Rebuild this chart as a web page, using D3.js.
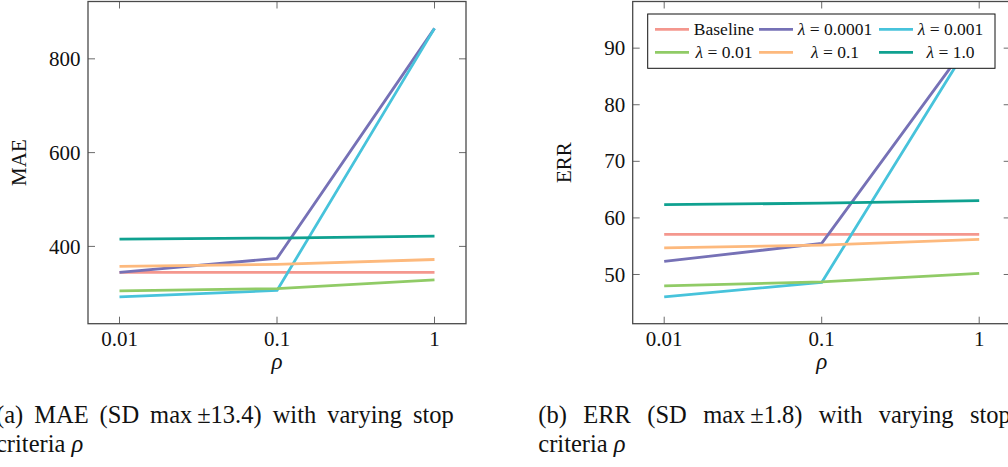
<!DOCTYPE html>
<html>
<head>
<meta charset="utf-8">
<script src="https://cdn.jsdelivr.net/npm/d3@7"></script>
<style>
  html, body { margin: 0; padding: 0; background: #fff; overflow: hidden; }
  svg { display: block; }
  svg text { font-family: "Liberation Serif", "Times New Roman", "DejaVu Serif", serif; }
</style>
</head>
<body>
<svg id="chart" width="1008" height="467"></svg>
<script>
// ---------- data ----------
const rho = [0.01, 0.1, 1];
const xTickLabels = ["0.01", "0.1", "1"];
const seriesKeys = ["Baseline", "λ = 0.0001", "λ = 0.001", "λ = 0.01", "λ = 0.1", "λ = 1.0"];
const seriesColors = ["#f4978e", "#7671b6", "#47c3db", "#90cb66", "#fdb97d", "#0fa190"];

const maeBaseline = [344.5, 344.5, 344.5];
const maeL00001   = [344.5, 374.4, 865];
const maeL0001    = [292.4, 306.0, 865];
const maeL001     = [305.0, 310.0, 328.7];
const maeL01      = [357.3, 361.6, 372.0];
const maeL1       = [415.6, 417.8, 422.0];
const maeTicks = [400, 600, 800];

const errBaseline = [57.1, 57.1, 57.1];
const errL00001   = [52.3, 55.5, 93.5];
const errL0001    = [46.05, 48.6, 93.5];
const errL001     = [48.0, 48.7, 50.2];
const errL01      = [54.7, 55.2, 56.2];
const errL1       = [62.35, 62.6, 63.05];
const errTicks = [50, 60, 70, 80, 90];

const captionA = ["(a)", "MAE", "(SD", "max\u2009±13.4)", "with", "varying", "stop"];
const captionB = ["(b)", "ERR", "(SD", "max\u2009±1.8)", "with", "varying", "stop"];

// ---------- layout ----------
const svg = d3.select("#chart");
const TOP = 1.5, BOTTOM = 323.7, PW = 378;
const tickLen = 7;

function panel(opts) {
  const g = svg.append("g");
  const x0 = opts.left, x1 = opts.left + PW;
  const enl = Math.pow(10, 0.2);
  const x = d3.scaleLog().domain([rho[0] / enl, rho[rho.length - 1] * enl]).range([x0, x1]);
  const all = opts.series.flat();
  const mn = d3.min(all), mx = d3.max(all), pad = (mx - mn) * 0.1;
  const y = d3.scaleLinear().domain([mn - pad, mx + pad]).range([BOTTOM, TOP]);

  const clipId = "clip" + opts.id;
  svg.append("clipPath").attr("id", clipId).append("rect")
    .attr("x", x0).attr("y", TOP).attr("width", PW).attr("height", BOTTOM - TOP);

  // ticks (inward, all four sides)
  const tg = g.append("g").attr("stroke", "#6b6b6b").attr("stroke-width", 1);
  rho.forEach(v => {
    const px = x(v);
    tg.append("line").attr("x1", px).attr("x2", px).attr("y1", BOTTOM).attr("y2", BOTTOM - tickLen);
    tg.append("line").attr("x1", px).attr("x2", px).attr("y1", TOP).attr("y2", TOP + tickLen);
  });
  opts.yTicks.forEach(v => {
    const py = y(v);
    tg.append("line").attr("x1", x0).attr("x2", x0 + tickLen).attr("y1", py).attr("y2", py);
    tg.append("line").attr("x1", x1).attr("x2", x1 - tickLen).attr("y1", py).attr("y2", py);
  });

  // lines
  const line = d3.line().x((d, i) => x(rho[i])).y(d => y(d));
  const lg = g.append("g").attr("clip-path", `url(#${clipId})`);
  opts.series.forEach((s, i) => {
    lg.append("path").datum(s).attr("d", line)
      .attr("fill", "none").attr("stroke", seriesColors[i])
      .attr("stroke-width", 2.8).attr("stroke-linejoin", "round");
  });

  // frame
  g.append("rect").attr("x", x0).attr("y", TOP).attr("width", PW).attr("height", BOTTOM - TOP)
    .attr("fill", "none").attr("stroke", "#4a4a4a").attr("stroke-width", 1.3);

  // tick labels
  rho.forEach((v, i) => {
    g.append("text").attr("x", x(v)).attr("y", 345.5).attr("text-anchor", "middle")
      .attr("font-size", 21).attr("fill", "#111").text(xTickLabels[i]);
  });
  opts.yTicks.forEach(v => {
    g.append("text").attr("x", x0 - 7.5).attr("y", y(v)).attr("dy", "0.34em").attr("text-anchor", "end")
      .attr("font-size", 21).attr("fill", "#111").text(v);
  });

  // axis labels
  g.append("text").attr("transform", `translate(${x0 - 62},${(TOP + BOTTOM) / 2}) rotate(-90)`)
    .attr("text-anchor", "middle").attr("font-size", 21).attr("fill", "#111").text(opts.yLabel);
  g.append("text").attr("x", x(0.1)).attr("y", 369).attr("text-anchor", "middle")
    .attr("font-size", 23).attr("font-style", "italic").attr("fill", "#111").text("ρ");

  return { x, y, x0, x1 };
}

function caption(words, startX, lastStart) {
  const fs = 24.5;
  const g = svg.append("g").attr("font-size", fs).attr("fill", "#111");
  const nodes = words.map(w => g.append("text").attr("y", 423.3).text(w));
  const widths = nodes.map(n => n.node().getComputedTextLength());
  const innerW = d3.sum(widths.slice(0, -1));
  const gap = (lastStart - startX - innerW) / (words.length - 1);
  let cx = startX;
  nodes.forEach((n, i) => { n.attr("x", cx); cx += widths[i] + gap; });
  const l2 = g.append("text").attr("x", startX).attr("y", 451.7);
  l2.append("tspan").text("criteria ");
  l2.append("tspan").attr("font-style", "italic").text("ρ");
}

const pA = panel({ id: "A", left: 88, series: [maeBaseline, maeL00001, maeL0001, maeL001, maeL01, maeL1], yTicks: maeTicks, yLabel: "MAE" });
const pB = panel({ id: "B", left: 632.7, series: [errBaseline, errL00001, errL0001, errL001, errL01, errL1], yTicks: errTicks, yLabel: "ERR" });

// legend in panel B
(function legend() {
  const bx = pB.x1 - 15.7 - 347.3, by = TOP + 12.5, bw = 347.3, bh = 54.3;
  const lg = svg.append("g");
  lg.append("rect").attr("x", bx).attr("y", by).attr("width", bw).attr("height", bh)
    .attr("fill", "#fff").attr("stroke", "#111").attr("stroke-width", 1);
  const colSample = [7.3, 111.3, 231.3];
  const colTextCenter = [76.3, 187.3, 302.8];
  const rowY = [15.3, 38.3];
  seriesKeys.forEach((k, i) => {
    const c = i % 3, r = Math.floor(i / 3);
    const sy = by + rowY[r];
    lg.append("line").attr("x1", bx + colSample[c]).attr("x2", bx + colSample[c] + 34)
      .attr("y1", sy).attr("y2", sy).attr("stroke", seriesColors[i]).attr("stroke-width", 2.8);
    const t = lg.append("text").attr("x", bx + colTextCenter[c]).attr("y", sy).attr("dy", "0.34em")
      .attr("text-anchor", "middle").attr("font-size", 17.5).attr("fill", "#111");
    if (k.startsWith("λ")) {
      t.append("tspan").attr("font-style", "italic").text("λ");
      t.append("tspan").text(k.slice(1));
    } else t.text(k);
  });
})();

caption(captionA, -4, 413);
caption(captionB, 538.3, 970);
</script>
</body>
</html>
